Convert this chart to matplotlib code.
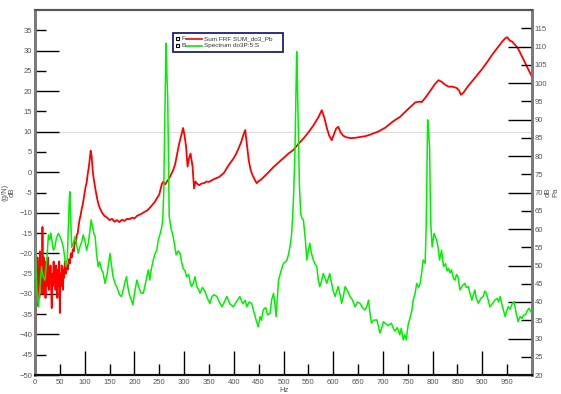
import matplotlib
matplotlib.use("Agg")
import matplotlib.pyplot as plt
from matplotlib.ticker import FixedLocator, FixedFormatter
from matplotlib.lines import Line2D
from matplotlib.patches import Rectangle

plt.rcParams['font.family'] = ['Liberation Sans', 'DejaVu Sans']

# ---- data: Sum FRF (left axis, dB g/N) ----
red_hz = [0, 1.2, 2.5, 3.7, 5, 6.2, 7.5, 8.7, 10, 11.2,
          12.5, 13.7, 15, 16.2, 17.5, 18.7, 20, 21.2, 22.5, 23.7,
          25, 26.2, 27.5, 28.7, 30, 31.2, 32.5, 33.7, 35, 36.2,
          37.5, 38.7, 40, 41.2, 42.5, 43.7, 45, 46.2, 47.5, 48.7,
          50, 51.2, 52.5, 53.7, 55, 56.2, 57.5, 58.7, 60, 62,
          64, 66, 68, 70, 72, 74, 76, 78, 80, 82,
          84, 86, 88, 90, 92, 94, 96, 98, 100, 102,
          104, 106, 108, 110, 112, 114, 116, 118, 120, 122,
          125, 128, 131, 135, 140, 145, 150, 155, 160, 165,
          170, 175, 180, 185, 190, 195, 200, 205, 210, 215,
          220, 225, 230, 235, 240, 245, 250, 255, 258, 262,
          266, 270, 274, 278, 282, 286, 290, 294, 298, 301,
          304, 307, 310, 313, 317, 320, 323, 326, 330, 335,
          340, 345, 350, 360, 370, 380, 390, 400, 405, 410,
          415, 420, 423, 427, 430, 434, 438, 442, 446, 450,
          455, 460, 470, 480, 490, 500, 510, 520, 530, 540,
          550, 560, 570, 577, 582, 587, 592, 597, 602, 606,
          610, 615, 620, 627, 635, 645, 655, 665, 675, 690,
          705, 720, 735, 750, 765, 772, 778, 785, 795, 805,
          812, 818, 825, 832, 840, 848, 853, 857, 862, 870,
          880, 890, 900, 910, 920, 930, 940, 946, 950, 955,
          960, 966, 972, 978, 983, 988, 994, 1000]
red_db = [-4, -40, -27, -33, -21, -30, -25, -31, -19.5, -28,
          -24, -30, -13.5, -27, -21, -30, -24, -31, -22, -28,
          -25, -21, -29, -24, -27, -23, -29, -33.5, -25, -28,
          -22, -27, -24, -29, -23, -27, -31, -24, -28, -22,
          -34.7, -25, -28, -23, -27, -29, -24, -26, -22, -25,
          -23, -24, -21.5, -22.5, -20, -21, -19, -19.5, -17, -17.5,
          -15.5, -15, -13, -11.5, -10.5, -9, -8, -6.5, -5, -3.5,
          -2.5, -0.5, 1, 3, 5.3, 4, 0.5, -1.5, -3, -4.5,
          -6.5, -8, -9, -10, -10.8, -11.2, -11.8, -11.5, -12.2, -11.8,
          -12.3, -11.7, -12, -11.5, -11.6, -11.2, -11.4, -10.8, -10.5, -10.2,
          -9.8, -9.5, -8.9, -8.2, -7.5, -6.5, -5.5, -3, -2.3, -3,
          -2.2, -1.5, -0.5, 0.5, 2, 4.5, 7, 9, 10.9, 9,
          6.3, 1.4, 3.5, 4.6, 1.4, -4, -2.3, -2.8, -3.2, -2.8,
          -2.7, -2.3, -2.4, -1.7, -1.2, -0.2, 1.8, 3.5, 4.6, 6,
          7.5, 9.5, 10.4, 6.3, 3, 0.5, -0.8, -1.8, -2.7, -2.2,
          -1.8, -1.2, 0, 1.3, 2.4, 3.5, 4.6, 5.5, 7, 8.3,
          9.8, 11.5, 13.5, 15.3, 13.5, 11, 9, 7.9, 9.5, 10.8,
          11.2, 9.8, 9, 8.6, 8.4, 8.5, 8.7, 8.9, 9.3, 10,
          11, 12.5, 13.7, 15.5, 17.2, 17.4, 17.3, 18.3, 20, 21.8,
          22.7, 22.3, 21.6, 21.1, 21.1, 20.8, 20.2, 19.1, 19.6, 21,
          22.5, 24, 25.5, 27.2, 29, 30.6, 32.2, 33, 33.3, 32.5,
          32.2, 31.4, 30.5, 29, 27.8, 26.5, 25, 23.5]

# ---- data: Spectrum (right axis, dB Pa) ----
grn_hz = [0, 2, 4, 7, 10, 13, 16, 20, 24, 27,
          30, 32, 35, 37, 40, 43, 47, 50, 53, 57,
          60, 62, 65, 67, 69, 70, 72, 74, 77, 80.5,
          84, 87, 90, 94, 97, 100, 104, 107, 110, 113,
          116, 119, 121, 124, 127, 130, 134, 137, 141, 145,
          148, 151, 154, 157, 161, 165, 170, 174, 178, 181,
          184, 187, 190, 194, 197, 201, 205, 209, 213, 218,
          222, 225, 228, 231, 234, 238, 241, 245, 248, 252,
          255, 257, 259, 261, 262, 263.5, 265, 267, 268.5, 270,
          274, 278, 281, 284, 288, 292, 295, 298, 302, 305,
          309, 312, 315, 318, 322, 326, 329, 332, 337, 342,
          347, 352, 356, 360, 366, 371, 376, 381, 386, 392,
          399, 405, 412, 418, 423, 426, 431, 436, 441, 445,
          449, 453, 456, 459, 464, 468, 473, 476, 480, 483,
          485, 488, 490, 495, 500, 504, 507, 510, 513, 516,
          518, 520, 522, 523, 525, 526.5, 528, 530, 532, 534.6,
          537, 540, 544, 547, 550, 553, 556, 560, 563, 567,
          570, 573, 577, 580, 584, 587, 590, 593, 597, 600,
          604, 607, 610, 614, 617, 621, 624, 629, 634, 639,
          644, 649, 654, 659, 664, 668, 671, 674, 677, 681,
          688, 694, 698, 701, 706, 711, 717, 721, 724, 729,
          734, 737, 741, 744, 747, 751, 755, 758, 761, 765,
          768, 772, 775, 778, 781, 785, 787, 788, 790, 792,
          794, 796, 799, 803, 808, 811, 814, 818, 822, 826,
          829, 832, 835, 838, 842, 845, 848, 851, 855, 860,
          865, 868, 872, 876, 879, 882, 885, 888, 892, 897,
          902, 905, 908, 912, 915, 920, 925, 930, 933, 936,
          940, 943, 946, 949, 952, 956, 960, 964, 968, 972,
          976, 980, 983, 987, 990, 994, 997, 1000]
grn_db = [57.5, 49, 43, 38.7, 44, 49.7, 47, 46, 52, 58.4,
          57, 58.9, 56, 54.2, 55, 57.5, 58.8, 58, 57, 55,
          52, 49.7, 52, 60, 68, 70.2, 62, 55, 56, 57.9,
          55.5, 53.4, 55, 56.5, 58.4, 57, 54.2, 56, 59, 62.5,
          60.5, 58.5, 57.9, 53, 49.7, 51, 48.8, 48, 45.1, 47.5,
          50.5, 53.3, 50, 47, 45.1, 44, 42, 41.5, 43.5, 45.5,
          46.9, 44, 42, 40.5, 39.2, 43, 46, 44, 42.5, 42.4,
          45, 47, 48.8, 46, 49, 51.5, 53, 54.2, 57, 58.8,
          60.5, 62.5, 70, 88, 99, 110.9, 104, 96, 80, 63.4,
          60, 57.9, 55.5, 52.9, 54, 53.3, 51, 49.2, 48.5, 46.9,
          47.5, 45.5, 44.2, 45, 46.9, 44, 43.5, 42.4, 44, 42.9,
          41, 39.6, 41.5, 42, 41.5, 40, 38.7, 40, 41.5, 39.5,
          38.7, 40, 41.5, 39.5, 40.5, 38.7, 40, 39.6, 37, 35,
          33.2, 36, 35, 37.8, 38.5, 36.5, 36.9, 40.5, 42.4, 39,
          36, 42, 46, 48.5, 50.6, 51, 51.5, 53, 55.1, 58,
          62.5, 68, 76, 80.7, 97, 108.6, 100, 86, 72, 64.3,
          63, 62.5, 57, 51.5, 54, 56.1, 53.5, 51.5, 50.5, 49.7,
          46, 44.2, 46, 47.8, 46.5, 45.1, 46.5, 47.8, 45, 43,
          41.5, 43, 44.2, 42, 39.6, 42, 44.2, 43, 41.5, 40.5,
          38.7, 40, 39.6, 38.5, 37.8, 39, 40.5, 37, 34.2, 35,
          35.1, 31.5, 33, 34.6, 34, 33.5, 34.2, 32.8, 32, 33,
          31, 32.8, 29.6, 31, 29.6, 34, 35.8, 37.5, 40.5, 42.5,
          45.1, 44, 45.1, 48, 51.5, 50.6, 60, 68.8, 89.9, 87,
          82, 62.5, 55.1, 58.8, 57, 55, 51.5, 54.2, 49.7, 50.5,
          48.5, 49.2, 48, 48.8, 46.5, 46, 47.5, 46.9, 43.3, 44.5,
          45.1, 44, 44.2, 42, 40.5, 42, 43.3, 41, 39.6, 41,
          41.5, 43, 42.4, 40.5, 38.7, 39.5, 40.5, 41, 40, 41.5,
          39, 37.5, 36, 37.5, 38.7, 38, 39.5, 40.1, 37, 34.6,
          36, 35.5, 36.4, 36.5, 37.5, 38.3, 37.5, 36.9]

x_major = list(range(0, 901, 100))
x_minor = list(range(50, 951, 100))
left_major = list(range(-50, 31, 10))
left_minor = list(range(-45, 36, 10))
right_major = list(range(20, 111, 10))
right_minor = list(range(25, 116, 10))

legend_keys = ["F", "B"]
legend_labels = ["Sum FRF SUM_do3_Pb", "Spectrum do3P:5:S"]
red_c = "#ff0000"
grn_c = "#00f000"

W, H = 561, 394
fig = plt.figure(figsize=(W / 100, H / 100), dpi=100)
L, R, T, B = 35, 532, 10, 375
ax = fig.add_axes([L / W, 1 - B / H, (R - L) / W, (B - T) / H])
ax2 = ax.twinx()

ax.axhline(10, color="#dcdcdc", lw=0.8, zorder=0)
ax.plot(red_hz, red_db, color=red_c, lw=1.3, zorder=3)
ax2.plot(grn_hz, grn_db, color=grn_c, lw=1.1, zorder=3)

ax.set_xlim(0, 1000)
ax.set_ylim(-50, 40)
ax2.set_ylim(20, 120)

lab_kw = dict(labelsize=5.5, labelcolor="#555555", color="black", width=1.0, direction="in")
ax.xaxis.set_major_locator(FixedLocator(x_major))
ax.xaxis.set_minor_locator(FixedLocator(x_minor))
ax.xaxis.set_minor_formatter(FixedFormatter([str(v) for v in x_minor]))
ax.tick_params(axis="x", which="major", length=17, pad=3, **lab_kw)
ax.tick_params(axis="x", which="minor", length=8, pad=3, **lab_kw)
ax.tick_params(axis="x", which="both", top=False)

ax.yaxis.set_major_locator(FixedLocator(left_major))
ax.yaxis.set_minor_locator(FixedLocator(left_minor))
ax.yaxis.set_minor_formatter(FixedFormatter([str(v) for v in left_minor]))
ax.tick_params(axis="y", which="major", length=17, pad=2, **lab_kw)
ax.tick_params(axis="y", which="minor", length=8, pad=2, **lab_kw)

ax2.yaxis.set_major_locator(FixedLocator(right_major))
ax2.yaxis.set_minor_locator(FixedLocator(right_minor))
ax2.yaxis.set_minor_formatter(FixedFormatter([str(v) for v in right_minor]))
ax2.tick_params(axis="y", which="major", length=17, pad=2, **lab_kw)
ax2.tick_params(axis="y", which="minor", length=8, pad=2, **lab_kw)

for a in (ax, ax2):
    a.spines["top"].set_color("#555555")
    a.spines["top"].set_linewidth(1.5)
    a.spines["left"].set_color("#7a7a7a")
    a.spines["left"].set_linewidth(2)
    a.spines["right"].set_color("#7a7a7a")
    a.spines["right"].set_linewidth(2)
    a.spines["bottom"].set_color("#111111")
    a.spines["bottom"].set_linewidth(1.5)

ax.set_xlabel("Hz", fontsize=5.5, color="#555555", labelpad=0.5)
ax.set_ylabel("(g/N)\ndB", fontsize=5.5, color="#555555", labelpad=3, linespacing=1.0)
ax2.set_ylabel("dB\nPa", fontsize=5.5, color="#555555", linespacing=1.0)
ax2.yaxis.set_label_position("right")
ax2.yaxis.set_label_coords(1.026, 0.5)

# legend box (drawn in figure pixel coordinates)
def fx(px):
    return px / W

def fy(py):
    return 1 - py / H

fig.add_artist(Rectangle((fx(173), fy(52)), fx(283) - fx(173), fy(32.5) - fy(52),
                         transform=fig.transFigure, fill=True, facecolor="white",
                         edgecolor="#1e2070", lw=1.3, zorder=10))
for i, (k, lab, col) in enumerate(zip(legend_keys, legend_labels, [red_c, grn_c])):
    yy = 38.5 + i * 7
    fig.add_artist(Rectangle((fx(176), fy(yy + 1.8)), fx(3.2), fy(0) - fy(3.2),
                             transform=fig.transFigure, fill=False,
                             edgecolor="black", lw=0.8, zorder=11))
    fig.text(fx(181), fy(yy), k, fontsize=4.6, color="#333333", va="center",
             ha="left", zorder=12)
    fig.add_artist(Line2D([fx(186), fx(202)], [fy(yy), fy(yy)], color=col,
                          lw=1.2, transform=fig.transFigure, zorder=11))
    fig.text(fx(204.5), fy(yy), lab, fontsize=4.6, color="#333333", va="center",
             ha="left", zorder=12)

fig.savefig("out.png", dpi=100)
